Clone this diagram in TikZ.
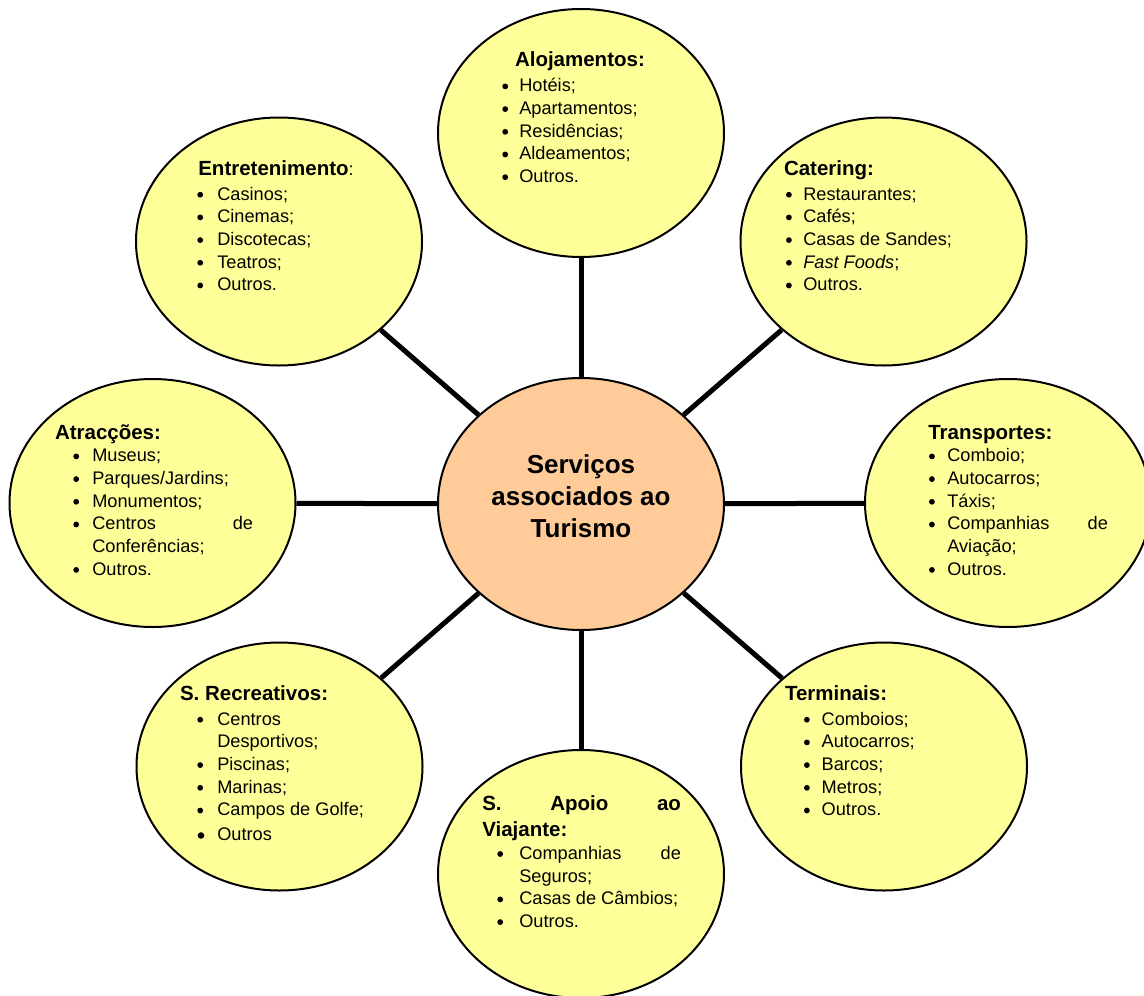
\documentclass[tikz,border=0pt]{standalone}
\usepackage{fontspec}
\setmainfont{Liberation Sans}
\usetikzlibrary{shapes.geometric}
\definecolor{bubyellow}{HTML}{FFFF99}
\definecolor{hubpeach}{HTML}{FFCC99}
\newlength{\bo}
\newlength{\tw}
\newcommand{\ttl}[1]{{\fontsize{20.5}{22.7}\selectfont\bfseries #1}}
\newcommand{\dotb}[1]{\raisebox{\dimexpr5.3pt-#1\relax}{\tikz\fill[black] (0,0) circle (#1);}}
\newcommand{\itm}[1]{\hspace*{\bo}\makebox[\tw][l]{\hspace*{1.2pt}\dotb{2.9pt}}#1}
\newcommand{\bigitm}[1]{\hspace*{\bo}\makebox[\tw][l]{\hspace*{1.6pt}\dotb{3.3pt}}#1}
\newcommand{\cont}[1]{\hspace*{\dimexpr\bo+\tw\relax}#1}
\newcommand{\setb}[2]{\setlength{\bo}{#1pt}\setlength{\tw}{#2pt}}
\begin{document}
\begin{tikzpicture}[x=1pt,y=-1pt,
  bub/.style={ellipse, draw=black, line width=2pt, fill=bubyellow,
    minimum width=286pt, minimum height=248pt, inner sep=0pt},
  hub/.style={bub, fill=hubpeach, minimum height=252pt},
  conn/.style={line width=5pt, draw=black},
  txt/.style={inner sep=0pt, outer sep=0pt, anchor=base west,
    font=\fontsize{18.2}{22.7}\selectfont}]
\useasboundingbox (0,0) rectangle (1144,996);
\clip (0,0) rectangle (1144,996);
% ellipses
\node[hub] (hub) at (581,504) {};
\node[bub] (aloj) at (581,133) {};
\node[bub] (cat) at (883.5,241.5) {};
\node[bub] (trans) at (1008,503) {};
\node[bub] (term) at (884,766.5) {};
\node[bub] (apoio) at (581,874) {};
\node[bub] (recr) at (279.5,766.5) {};
\node[bub] (atr) at (152.5,503) {};
\node[bub] (ent) at (279,241.5) {};
% connectors
\foreach \n in {aloj,cat,trans,term,apoio,recr,atr,ent}
  \draw[conn] (hub) -- (\n);
% centre text
\node[inner sep=0pt, anchor=base] (hub-t) at (581,473)
  {\parbox[t]{280pt}{\centering\fontsize{26}{32}\selectfont\bfseries
   Serviços\\ associados ao\\ Turismo}};
% Alojamentos
\node[txt] (aloj-t) at (515,66.7) {\parbox[t]{230pt}{\setb{-13.9}{18.2}%
\ttl{Alojamentos:}\\[2.3pt]
\itm{Hotéis;}\\
\itm{Apartamentos;}\\
\itm{Residências;}\\
\itm{Aldeamentos;}\\
\itm{Outros.}}};
% Catering
\node[txt] (cat-t) at (784,175.7) {\parbox[t]{230pt}{\setb{0.8}{18.5}%
\ttl{Catering:}\\[1.6pt]
\itm{Restaurantes;}\\
\itm{Cafés;}\\
\itm{Casas de Sandes;}\\
\itm{\textit{Fast Foods};}\\
\itm{Outros.}}};
% Entretenimento
\node[txt] (ent-t) at (198.3,175.7) {\parbox[t]{230pt}{\setb{-2.2}{21.2}%
\ttl{Entretenimento}:\\[1.6pt]
\itm{Casinos;}\\
\itm{Cinemas;}\\
\itm{Discotecas;}\\
\itm{Teatros;}\\
\itm{Outros.}}};
% Atraccoes
\node[txt] (atr-t) at (55,439) {\parbox[t]{230pt}{\setb{17.1}{20.2}%
\ttl{Atracções:}\\
\itm{Museus;}\\
\itm{Parques/Jardins;}\\
\itm{Monumentos;}\\
\itm{\makebox[160.7pt][s]{Centros\hfill de}}\\
\cont{Conferências;}\\
\itm{Outros.}}};
% Transportes
\node[txt] (trans-t) at (928.3,439) {\parbox[t]{230pt}{\setb{-0.5}{19.5}%
\ttl{Transportes:}\\
\itm{Comboio;}\\
\itm{Autocarros;}\\
\itm{Táxis;}\\
\itm{\makebox[160.7pt][s]{Companhias\hfill de}}\\
\cont{Aviação;}\\
\itm{Outros.}}};
% Terminais
\node[txt] (term-t) at (785,700.7) {\parbox[t]{230pt}{\setb{17.8}{18.9}%
\ttl{Terminais:}\\[1.6pt]
\itm{Comboios;}\\
\itm{Autocarros;}\\
\itm{Barcos;}\\
\itm{Metros;}\\
\itm{Outros.}}};
% S. Recreativos
\node[txt] (recr-t) at (180,700.7) {\parbox[t]{230pt}{\setb{16.1}{21.2}%
\ttl{S. Recreativos:}\\[1.6pt]
\itm{Centros}\\
\cont{Desportivos;}\\
\itm{Piscinas;}\\
\itm{Marinas;}\\
\itm{Campos de Golfe;}\\[2.3pt]
\bigitm{Outros}}};
% S. Apoio ao Viajante
\node[txt] (apoio-t) at (482.3,810) {\parbox[t]{230pt}{\setb{13.8}{23.2}%
\ttl{\makebox[198.7pt][s]{S.\hfill Apoio\hfill ao}}\\[3.3pt]
\ttl{Viajante:}\\[0.6pt]
\itm{\makebox[161.7pt][s]{Companhias\hfill de}}\\
\cont{Seguros;}\\
\itm{Casas de Câmbios;}\\
\itm{Outros.}}};
\end{tikzpicture}
\end{document}
